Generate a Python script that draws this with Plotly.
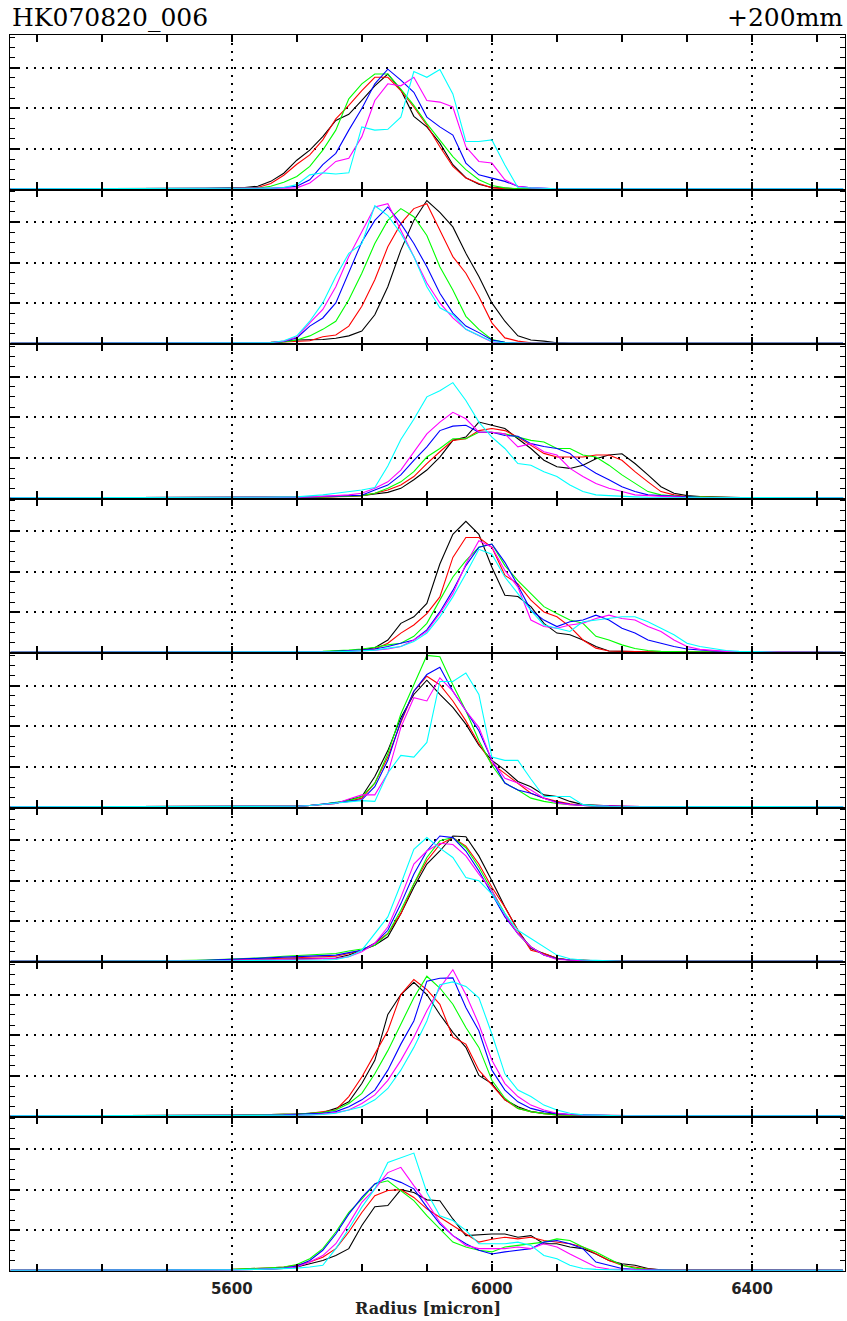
import plotly.graph_objects as go
from plotly.subplots import make_subplots

# ---------------- data ----------------
SERIES = ["black", "red", "green", "blue", "magenta", "cyan"]
COLORS = ["#000000", "#ff0000", "#00ff00", "#0000ff", "#ff00ff", "#00ffff"]
X_TICK_VALUES = [5600, 6000, 6400]
X_TICK_LABELS = ["5600", "6000", "6400"]
TITLE_LEFT = "HK070820_006"
TITLE_RIGHT = "+200mm"
X_TITLE = "Radius [micron]"

# Panel 1
P1_X = [5260, 5400, 5500, 5560, 5600, 5620, 5640, 5660, 5680, 5700, 5720, 5740, 5760, 5780, 5800, 5820,
        5840, 5860, 5880, 5900, 5920, 5940, 5960, 5980, 6000, 6020, 6040, 6060, 6080, 6100, 6140, 6200,
        6300, 6400, 6540]
P1_BLACK = [0.02, 0.02, 0.03, 0.03, 0.04, 0.05, 0.08, 0.20, 0.40, 0.72, 0.97, 1.30, 1.70, 1.85, 2.19, 2.55,
            2.84, 2.45, 1.80, 1.54, 1.14, 0.61, 0.29, 0.13, 0.05, 0.03, 0.02, 0.02, 0.02, 0.02, 0.02, 0.02,
            0.02, 0.02, 0.02]
P1_RED = [0.02, 0.02, 0.02, 0.03, 0.03, 0.04, 0.05, 0.15, 0.35, 0.62, 0.85, 1.22, 1.74, 2.07, 2.43, 2.76,
          2.76, 2.43, 2.03, 1.58, 1.05, 0.57, 0.28, 0.15, 0.04, 0.02, 0.02, 0.02, 0.02, 0.02, 0.02, 0.02,
          0.02, 0.02, 0.02]
P1_GREEN = [0.02, 0.02, 0.02, 0.02, 0.03, 0.03, 0.03, 0.08, 0.18, 0.32, 0.57, 0.97, 1.46, 2.23, 2.60, 2.84,
            2.84, 2.47, 2.07, 1.62, 1.22, 0.81, 0.49, 0.24, 0.10, 0.04, 0.02, 0.02, 0.02, 0.02, 0.02, 0.02,
            0.02, 0.02, 0.02]
P1_BLUE = [0.02, 0.02, 0.02, 0.02, 0.02, 0.02, 0.02, 0.03, 0.05, 0.08, 0.24, 0.61, 0.89, 1.46, 1.99, 2.60,
           2.96, 2.69, 2.39, 1.78, 1.54, 1.34, 0.65, 0.36, 0.28, 0.20, 0.08, 0.04, 0.03, 0.02, 0.02, 0.02,
           0.02, 0.02, 0.02]
P1_MAGENTA = [0.02, 0.02, 0.02, 0.02, 0.02, 0.02, 0.02, 0.02, 0.03, 0.04, 0.16, 0.41, 0.69, 0.77, 1.30, 2.19,
              2.60, 2.55, 2.76, 2.19, 2.15, 2.03, 1.05, 0.69, 0.65, 0.24, 0.08, 0.04, 0.03, 0.02, 0.02, 0.02,
              0.02, 0.02, 0.02]
P1_CYAN = [0.02, 0.02, 0.02, 0.02, 0.02, 0.02, 0.02, 0.03, 0.05, 0.12, 0.36, 0.41, 0.38, 0.41, 1.54, 1.46,
           1.48, 1.78, 2.90, 2.76, 2.95, 2.35, 1.18, 1.18, 1.22, 0.60, 0.05, 0.04, 0.03, 0.02, 0.02, 0.02,
           0.02, 0.02, 0.02]

# Panel 2
P2_X = [5260, 5400, 5500, 5560, 5600, 5630, 5660, 5680, 5700, 5720, 5740, 5760, 5780, 5800, 5820, 5840,
        5860, 5880, 5900, 5920, 5940, 5960, 5980, 6000, 6020, 6040, 6060, 6080, 6100, 6120, 6160, 6200,
        6300, 6400, 6540]
P2_BLACK = [0.02, 0.02, 0.02, 0.02, 0.02, 0.03, 0.04, 0.06, 0.10, 0.11, 0.11, 0.14, 0.20, 0.32, 0.72, 1.41,
            2.31, 3.04, 3.53, 3.24, 2.88, 2.23, 1.66, 1.01, 0.56, 0.20, 0.10, 0.07, 0.03, 0.02, 0.02, 0.02,
            0.02, 0.02, 0.02]
P2_RED = [0.02, 0.02, 0.02, 0.02, 0.02, 0.03, 0.03, 0.05, 0.07, 0.08, 0.18, 0.22, 0.44, 0.93, 1.58, 2.39,
          2.96, 3.33, 3.45, 2.80, 2.15, 1.74, 1.17, 0.52, 0.15, 0.07, 0.03, 0.02, 0.02, 0.02, 0.02, 0.02,
          0.02, 0.02, 0.02]
P2_GREEN = [0.02, 0.02, 0.02, 0.02, 0.02, 0.03, 0.03, 0.05, 0.10, 0.20, 0.36, 0.56, 1.09, 1.74, 2.47, 3.04,
            3.33, 3.13, 2.67, 1.90, 1.33, 0.68, 0.36, 0.11, 0.04, 0.02, 0.02, 0.02, 0.02, 0.02, 0.02, 0.02,
            0.02, 0.02, 0.02]
P2_BLUE = [0.02, 0.02, 0.02, 0.02, 0.02, 0.03, 0.03, 0.06, 0.15, 0.44, 0.64, 1.01, 1.74, 2.51, 3.04, 3.37,
           2.96, 2.47, 1.90, 1.25, 0.76, 0.44, 0.28, 0.10, 0.04, 0.02, 0.02, 0.02, 0.02, 0.02, 0.02, 0.02,
           0.02, 0.02, 0.02]
P2_MAGENTA = [0.02, 0.02, 0.02, 0.02, 0.02, 0.03, 0.03, 0.07, 0.17, 0.52, 0.85, 1.41, 2.15, 2.76, 3.37, 3.45,
              2.80, 2.15, 1.50, 1.01, 0.64, 0.36, 0.20, 0.05, 0.03, 0.02, 0.02, 0.02, 0.02, 0.02, 0.02, 0.02,
              0.02, 0.02, 0.02]
P2_CYAN = [0.02, 0.02, 0.02, 0.02, 0.02, 0.03, 0.03, 0.08, 0.20, 0.56, 1.01, 1.66, 2.23, 2.47, 3.40, 3.16,
           2.72, 2.15, 1.41, 0.89, 0.72, 0.36, 0.20, 0.06, 0.03, 0.02, 0.02, 0.02, 0.02, 0.02, 0.02, 0.02,
           0.02, 0.02, 0.02]

# Panel 3
P3_X = [5260, 5400, 5500, 5560, 5600, 5650, 5700, 5720, 5740, 5760, 5780, 5800, 5820, 5840, 5860, 5880,
        5900, 5920, 5940, 5960, 5980, 6000, 6020, 6040, 6060, 6080, 6100, 6120, 6140, 6160, 6180, 6200,
        6220, 6240, 6260, 6280, 6300, 6320, 6340, 6400, 6540]
P3_BLACK = [0.02, 0.02, 0.02, 0.02, 0.03, 0.03, 0.03, 0.03, 0.04, 0.05, 0.05, 0.07, 0.11, 0.15, 0.25, 0.46,
            0.70, 1.02, 1.43, 1.51, 1.88, 1.80, 1.72, 1.47, 1.23, 0.94, 0.78, 0.74, 0.82, 0.98, 1.07, 1.10,
            0.86, 0.58, 0.29, 0.13, 0.07, 0.05, 0.04, 0.02, 0.02]
P3_RED = [0.02, 0.02, 0.02, 0.02, 0.03, 0.03, 0.03, 0.03, 0.04, 0.04, 0.05, 0.07, 0.13, 0.21, 0.33, 0.54,
          0.86, 1.15, 1.43, 1.47, 1.67, 1.72, 1.67, 1.51, 1.31, 1.11, 1.02, 1.02, 1.02, 1.07, 1.07, 0.94,
          0.66, 0.41, 0.17, 0.09, 0.05, 0.04, 0.03, 0.02, 0.02]
P3_GREEN = [0.02, 0.02, 0.02, 0.02, 0.03, 0.03, 0.03, 0.03, 0.04, 0.05, 0.05, 0.07, 0.13, 0.25, 0.41, 0.66,
            1.02, 1.23, 1.47, 1.47, 1.63, 1.63, 1.59, 1.51, 1.43, 1.39, 1.23, 1.23, 1.07, 1.02, 0.82, 0.58,
            0.37, 0.17, 0.09, 0.06, 0.05, 0.04, 0.03, 0.02, 0.02]
P3_BLUE = [0.02, 0.02, 0.02, 0.02, 0.03, 0.03, 0.03, 0.04, 0.05, 0.06, 0.07, 0.08, 0.21, 0.33, 0.58, 0.94,
           1.27, 1.67, 1.78, 1.80, 1.63, 1.63, 1.55, 1.53, 1.35, 1.28, 1.23, 1.11, 0.82, 0.62, 0.46, 0.29,
           0.17, 0.09, 0.07, 0.05, 0.04, 0.03, 0.03, 0.02, 0.02]
P3_MAGENTA = [0.02, 0.02, 0.02, 0.02, 0.03, 0.03, 0.03, 0.04, 0.05, 0.07, 0.09, 0.13, 0.25, 0.41, 0.70, 1.15,
              1.59, 1.88, 2.12, 1.96, 1.63, 1.63, 1.59, 1.27, 1.35, 1.15, 1.07, 0.74, 0.54, 0.37, 0.25, 0.17,
              0.09, 0.07, 0.05, 0.04, 0.03, 0.03, 0.03, 0.02, 0.02]
P3_CYAN = [0.02, 0.02, 0.02, 0.02, 0.03, 0.03, 0.04, 0.06, 0.09, 0.13, 0.17, 0.21, 0.27, 0.80, 1.45, 1.95,
           2.50, 2.65, 2.85, 2.41, 1.88, 1.51, 1.23, 0.86, 0.82, 0.66, 0.54, 0.33, 0.17, 0.09, 0.07, 0.05,
           0.04, 0.03, 0.03, 0.03, 0.03, 0.03, 0.03, 0.02, 0.02]

# Panel 4
P4_X = [5260, 5400, 5500, 5560, 5600, 5650, 5700, 5740, 5760, 5780, 5800, 5820, 5840, 5860, 5880, 5900,
        5920, 5940, 5960, 5980, 6000, 6020, 6040, 6060, 6080, 6100, 6120, 6140, 6160, 6180, 6200, 6220,
        6240, 6260, 6280, 6300, 6320, 6340, 6360, 6380, 6440, 6540]
P4_BLACK = [0.02, 0.02, 0.02, 0.02, 0.02, 0.03, 0.03, 0.03, 0.04, 0.05, 0.08, 0.13, 0.32, 0.73, 0.89, 1.22,
            2.19, 2.92, 3.24, 2.92, 2.11, 1.42, 1.39, 1.14, 0.73, 0.49, 0.45, 0.32, 0.16, 0.05, 0.04, 0.03,
            0.03, 0.03, 0.03, 0.03, 0.03, 0.03, 0.03, 0.03, 0.02, 0.02]
P4_RED = [0.02, 0.02, 0.02, 0.02, 0.02, 0.03, 0.03, 0.03, 0.04, 0.05, 0.07, 0.10, 0.24, 0.49, 0.69, 0.97,
          1.38, 2.35, 2.84, 2.84, 2.60, 1.91, 1.70, 1.30, 1.01, 0.89, 0.65, 0.32, 0.12, 0.05, 0.04, 0.03,
          0.03, 0.03, 0.03, 0.03, 0.03, 0.03, 0.03, 0.03, 0.02, 0.02]
P4_GREEN = [0.02, 0.02, 0.02, 0.02, 0.02, 0.03, 0.03, 0.04, 0.05, 0.07, 0.10, 0.14, 0.20, 0.24, 0.41, 0.73,
            1.30, 1.87, 2.27, 2.60, 2.68, 2.15, 1.78, 1.46, 1.14, 0.97, 0.81, 0.73, 0.41, 0.32, 0.20, 0.11,
            0.06, 0.04, 0.03, 0.03, 0.03, 0.03, 0.03, 0.03, 0.02, 0.02]
P4_BLUE = [0.02, 0.02, 0.02, 0.02, 0.02, 0.03, 0.03, 0.03, 0.04, 0.05, 0.07, 0.10, 0.16, 0.24, 0.32, 0.57,
           1.01, 1.54, 2.15, 2.60, 2.68, 2.23, 1.66, 1.05, 0.81, 0.65, 0.77, 0.81, 0.93, 0.81, 0.61, 0.49,
           0.32, 0.24, 0.16, 0.10, 0.07, 0.05, 0.04, 0.03, 0.02, 0.02]
P4_MAGENTA = [0.02, 0.02, 0.02, 0.02, 0.02, 0.03, 0.03, 0.03, 0.03, 0.04, 0.05, 0.07, 0.10, 0.16, 0.32, 0.53,
              0.97, 1.46, 2.19, 2.76, 2.60, 2.03, 1.62, 0.81, 0.65, 0.61, 0.69, 0.73, 0.85, 0.93, 0.85, 0.81,
              0.65, 0.53, 0.32, 0.16, 0.09, 0.06, 0.04, 0.03, 0.02, 0.02]
P4_CYAN = [0.02, 0.02, 0.02, 0.02, 0.02, 0.03, 0.03, 0.03, 0.03, 0.04, 0.05, 0.07, 0.12, 0.16, 0.28, 0.49,
           0.89, 1.38, 1.95, 2.55, 2.43, 1.87, 1.46, 1.05, 0.69, 0.61, 0.53, 0.77, 0.81, 0.85, 0.89, 0.89,
           0.77, 0.61, 0.45, 0.24, 0.16, 0.11, 0.06, 0.04, 0.02, 0.02]

# Panel 5
P5_X = [5260, 5400, 5500, 5560, 5600, 5650, 5700, 5720, 5740, 5760, 5780, 5800, 5820, 5840, 5860, 5880,
        5900, 5920, 5940, 5960, 5980, 6000, 6020, 6040, 6060, 6080, 6100, 6120, 6140, 6160, 6180, 6200,
        6260, 6300, 6400, 6540]
P5_BLACK = [0.02, 0.02, 0.02, 0.02, 0.02, 0.03, 0.03, 0.05, 0.07, 0.10, 0.19, 0.27, 0.76, 1.40, 2.21, 2.78,
            3.13, 2.78, 2.46, 2.05, 1.53, 1.16, 0.92, 0.64, 0.51, 0.31, 0.27, 0.15, 0.07, 0.05, 0.04, 0.03,
            0.02, 0.02, 0.02, 0.02]
P5_RED = [0.02, 0.02, 0.02, 0.02, 0.02, 0.03, 0.03, 0.05, 0.08, 0.12, 0.15, 0.23, 0.60, 1.24, 2.09, 2.86,
          3.23, 3.02, 2.62, 2.13, 1.57, 1.08, 0.84, 0.60, 0.35, 0.23, 0.15, 0.09, 0.05, 0.04, 0.03, 0.03,
          0.02, 0.02, 0.02, 0.02]
P5_GREEN = [0.02, 0.02, 0.02, 0.02, 0.02, 0.03, 0.03, 0.05, 0.08, 0.13, 0.17, 0.27, 0.60, 1.32, 2.30, 3.02,
            3.74, 3.71, 3.02, 2.38, 1.65, 1.04, 0.60, 0.43, 0.23, 0.15, 0.10, 0.07, 0.05, 0.04, 0.03, 0.03,
            0.02, 0.02, 0.02, 0.02]
P5_BLUE = [0.02, 0.02, 0.02, 0.02, 0.02, 0.03, 0.03, 0.05, 0.08, 0.11, 0.15, 0.19, 0.51, 1.16, 2.13, 2.86,
           3.27, 3.45, 2.86, 2.38, 1.89, 1.16, 0.60, 0.43, 0.35, 0.23, 0.13, 0.08, 0.05, 0.04, 0.03, 0.03,
           0.02, 0.02, 0.02, 0.02]
P5_MAGENTA = [0.02, 0.02, 0.02, 0.02, 0.02, 0.03, 0.03, 0.05, 0.07, 0.10, 0.21, 0.31, 0.31, 0.84, 1.97, 2.70,
              2.62, 3.19, 2.86, 2.38, 1.97, 1.16, 0.72, 0.60, 0.43, 0.23, 0.11, 0.07, 0.05, 0.04, 0.03, 0.03,
              0.02, 0.02, 0.02, 0.02]
P5_CYAN = [0.02, 0.02, 0.02, 0.02, 0.02, 0.03, 0.03, 0.05, 0.08, 0.11, 0.15, 0.17, 0.15, 0.85, 1.28, 1.24,
           1.60, 3.10, 3.10, 3.31, 2.78, 1.24, 1.16, 1.16, 0.70, 0.27, 0.27, 0.27, 0.07, 0.04, 0.03, 0.03,
           0.02, 0.02, 0.02, 0.02]

# Panel 6
P6_X = [5260, 5400, 5450, 5500, 5560, 5600, 5640, 5680, 5700, 5720, 5740, 5760, 5780, 5800, 5820, 5840,
        5860, 5880, 5900, 5920, 5940, 5960, 5980, 6000, 6020, 6040, 6060, 6080, 6100, 6120, 6140, 6160,
        6180, 6200, 6260, 6300, 6400, 6540]
P6_BLACK = [0.02, 0.02, 0.02, 0.02, 0.03, 0.04, 0.05, 0.06, 0.07, 0.08, 0.09, 0.10, 0.17, 0.29, 0.41, 0.62,
            1.19, 1.84, 2.41, 2.73, 3.10, 3.08, 2.61, 2.00, 1.35, 0.78, 0.33, 0.21, 0.09, 0.05, 0.04, 0.03,
            0.03, 0.02, 0.02, 0.02, 0.02, 0.02]
P6_RED = [0.02, 0.02, 0.02, 0.02, 0.03, 0.05, 0.07, 0.09, 0.10, 0.11, 0.12, 0.14, 0.21, 0.29, 0.46, 0.70,
          1.19, 1.92, 2.49, 2.89, 3.06, 2.85, 2.41, 1.84, 1.35, 0.78, 0.29, 0.21, 0.09, 0.05, 0.04, 0.03,
          0.03, 0.02, 0.02, 0.02, 0.02, 0.02]
P6_GREEN = [0.02, 0.02, 0.02, 0.03, 0.05, 0.07, 0.10, 0.14, 0.16, 0.18, 0.20, 0.21, 0.27, 0.32, 0.41, 0.70,
            1.27, 1.92, 2.57, 2.98, 3.06, 2.81, 2.33, 1.76, 1.19, 0.70, 0.37, 0.17, 0.08, 0.05, 0.04, 0.03,
            0.03, 0.02, 0.02, 0.02, 0.02, 0.02]
P6_BLUE = [0.02, 0.02, 0.02, 0.02, 0.04, 0.06, 0.09, 0.12, 0.13, 0.15, 0.16, 0.17, 0.23, 0.29, 0.46, 0.78,
           1.43, 2.16, 2.73, 3.10, 3.06, 2.73, 2.24, 1.67, 1.11, 0.70, 0.37, 0.17, 0.08, 0.05, 0.04, 0.03,
           0.03, 0.02, 0.02, 0.02, 0.02, 0.02]
P6_MAGENTA = [0.02, 0.02, 0.02, 0.02, 0.03, 0.04, 0.05, 0.07, 0.07, 0.08, 0.08, 0.09, 0.13, 0.25, 0.46, 0.86,
              1.59, 2.41, 2.73, 2.92, 2.89, 2.61, 2.16, 1.76, 1.15, 0.70, 0.37, 0.17, 0.06, 0.04, 0.03, 0.03,
              0.02, 0.02, 0.02, 0.02, 0.02, 0.02]
P6_CYAN = [0.02, 0.02, 0.02, 0.02, 0.03, 0.03, 0.04, 0.04, 0.04, 0.05, 0.05, 0.06, 0.13, 0.29, 0.70, 1.11,
           1.92, 2.77, 3.06, 2.80, 2.57, 2.08, 2.00, 1.67, 1.19, 0.78, 0.58, 0.37, 0.17, 0.08, 0.05, 0.04,
           0.03, 0.02, 0.02, 0.02, 0.02, 0.02]

# Panel 7
P7_X = [5260, 5400, 5500, 5560, 5600, 5640, 5680, 5700, 5720, 5740, 5760, 5780, 5800, 5820, 5840, 5860,
        5880, 5900, 5920, 5940, 5960, 5980, 6000, 6020, 6040, 6060, 6080, 6100, 6120, 6140, 6160, 6200,
        6260, 6300, 6400, 6540]
P7_BLACK = [0.02, 0.02, 0.02, 0.02, 0.03, 0.04, 0.05, 0.06, 0.08, 0.10, 0.20, 0.36, 0.81, 1.38, 2.51, 3.00,
            3.30, 3.00, 2.51, 2.07, 1.70, 1.01, 0.81, 0.41, 0.24, 0.12, 0.08, 0.06, 0.04, 0.03, 0.03, 0.02,
            0.02, 0.02, 0.02, 0.02]
P7_RED = [0.02, 0.02, 0.02, 0.02, 0.03, 0.04, 0.05, 0.06, 0.08, 0.12, 0.16, 0.49, 0.97, 1.54, 2.11, 3.00,
          3.37, 3.12, 2.76, 1.95, 1.78, 1.14, 0.77, 0.41, 0.20, 0.12, 0.07, 0.04, 0.03, 0.03, 0.02, 0.02,
          0.02, 0.02, 0.02, 0.02]
P7_GREEN = [0.02, 0.02, 0.02, 0.02, 0.03, 0.04, 0.05, 0.06, 0.08, 0.10, 0.16, 0.32, 0.57, 1.05, 1.62, 2.27,
            2.92, 3.45, 3.16, 2.76, 2.19, 1.70, 0.89, 0.45, 0.20, 0.12, 0.07, 0.04, 0.03, 0.03, 0.02, 0.02,
            0.02, 0.02, 0.02, 0.02]
P7_BLUE = [0.02, 0.02, 0.02, 0.02, 0.02, 0.03, 0.04, 0.05, 0.06, 0.08, 0.12, 0.24, 0.41, 0.65, 1.14, 1.78,
           2.35, 3.33, 3.40, 3.41, 2.68, 2.11, 1.14, 0.65, 0.36, 0.20, 0.12, 0.07, 0.05, 0.04, 0.03, 0.02,
           0.02, 0.02, 0.02, 0.02]
P7_MAGENTA = [0.02, 0.02, 0.02, 0.02, 0.02, 0.02, 0.03, 0.03, 0.04, 0.06, 0.10, 0.16, 0.32, 0.53, 0.89, 1.38,
              1.95, 2.60, 3.16, 3.61, 3.00, 2.27, 1.38, 0.81, 0.49, 0.28, 0.16, 0.08, 0.05, 0.03, 0.03, 0.02,
              0.02, 0.02, 0.02, 0.02]
P7_CYAN = [0.02, 0.02, 0.02, 0.02, 0.02, 0.02, 0.03, 0.03, 0.04, 0.05, 0.08, 0.16, 0.24, 0.41, 0.69, 1.14,
           1.70, 2.35, 3.24, 3.31, 3.20, 2.92, 2.03, 1.05, 0.65, 0.49, 0.28, 0.16, 0.08, 0.04, 0.03, 0.02,
           0.02, 0.02, 0.02, 0.02]

# Panel 8
P8_X = [5260, 5400, 5450, 5500, 5560, 5600, 5640, 5660, 5680, 5700, 5720, 5740, 5760, 5780, 5800, 5820,
        5840, 5860, 5880, 5900, 5920, 5940, 5960, 5980, 6000, 6020, 6040, 6060, 6080, 6100, 6120, 6140,
        6160, 6180, 6200, 6220, 6240, 6260, 6280, 6320, 6400, 6540]
P8_BLACK = [0.02, 0.02, 0.02, 0.02, 0.03, 0.03, 0.04, 0.05, 0.06, 0.10, 0.18, 0.26, 0.38, 0.55, 1.12, 1.58,
            1.61, 2.00, 1.93, 1.75, 1.73, 1.28, 0.87, 0.89, 0.91, 0.91, 0.83, 0.87, 0.67, 0.67, 0.59, 0.55,
            0.42, 0.26, 0.18, 0.14, 0.06, 0.03, 0.03, 0.02, 0.02, 0.02]
P8_RED = [0.02, 0.02, 0.02, 0.02, 0.03, 0.04, 0.06, 0.08, 0.10, 0.14, 0.22, 0.34, 0.55, 0.96, 1.44, 1.85,
          1.98, 2.00, 1.81, 1.53, 1.32, 1.12, 0.91, 0.71, 0.78, 0.83, 0.79, 0.83, 0.75, 0.71, 0.67, 0.59,
          0.42, 0.26, 0.14, 0.10, 0.05, 0.03, 0.03, 0.02, 0.02, 0.02]
P8_GREEN = [0.02, 0.02, 0.02, 0.02, 0.03, 0.04, 0.06, 0.08, 0.10, 0.16, 0.30, 0.55, 0.96, 1.44, 1.77, 2.14,
            2.22, 1.98, 1.73, 1.36, 1.04, 0.71, 0.59, 0.51, 0.47, 0.59, 0.63, 0.67, 0.71, 0.79, 0.75, 0.59,
            0.47, 0.30, 0.14, 0.07, 0.04, 0.03, 0.02, 0.02, 0.02, 0.02]
P8_BLUE = [0.02, 0.02, 0.02, 0.02, 0.03, 0.03, 0.04, 0.05, 0.07, 0.12, 0.26, 0.51, 0.91, 1.40, 1.81, 2.14,
           2.30, 2.18, 2.02, 1.57, 1.16, 0.87, 0.67, 0.51, 0.42, 0.47, 0.51, 0.55, 0.71, 0.75, 0.67, 0.55,
           0.22, 0.14, 0.06, 0.04, 0.03, 0.02, 0.02, 0.02, 0.02, 0.02]
P8_MAGENTA = [0.02, 0.02, 0.02, 0.02, 0.03, 0.03, 0.04, 0.05, 0.06, 0.10, 0.22, 0.38, 0.67, 1.16, 1.69, 2.02,
              2.42, 2.55, 2.10, 1.69, 1.20, 0.87, 0.63, 0.55, 0.55, 0.55, 0.59, 0.55, 0.67, 0.59, 0.42, 0.26,
              0.10, 0.05, 0.04, 0.03, 0.02, 0.02, 0.02, 0.02, 0.02, 0.02]
P8_CYAN = [0.02, 0.02, 0.02, 0.02, 0.03, 0.03, 0.04, 0.05, 0.06, 0.07, 0.10, 0.14, 0.55, 1.04, 1.57, 2.02,
           2.67, 2.79, 2.90, 1.93, 1.36, 1.24, 1.00, 0.67, 0.67, 0.67, 0.71, 0.63, 0.38, 0.30, 0.14, 0.06,
           0.04, 0.03, 0.03, 0.02, 0.02, 0.02, 0.02, 0.02, 0.02, 0.02]

PANELS = [
    (P1_X, [P1_BLACK, P1_RED, P1_GREEN, P1_BLUE, P1_MAGENTA, P1_CYAN]),
    (P2_X, [P2_BLACK, P2_RED, P2_GREEN, P2_BLUE, P2_MAGENTA, P2_CYAN]),
    (P3_X, [P3_BLACK, P3_RED, P3_GREEN, P3_BLUE, P3_MAGENTA, P3_CYAN]),
    (P4_X, [P4_BLACK, P4_RED, P4_GREEN, P4_BLUE, P4_MAGENTA, P4_CYAN]),
    (P5_X, [P5_BLACK, P5_RED, P5_GREEN, P5_BLUE, P5_MAGENTA, P5_CYAN]),
    (P6_X, [P6_BLACK, P6_RED, P6_GREEN, P6_BLUE, P6_MAGENTA, P6_CYAN]),
    (P7_X, [P7_BLACK, P7_RED, P7_GREEN, P7_BLUE, P7_MAGENTA, P7_CYAN]),
    (P8_X, [P8_BLACK, P8_RED, P8_GREEN, P8_BLUE, P8_MAGENTA, P8_CYAN]),
]

X_RANGE = [5259, 6543]
Y_RANGE = [0, 3.8]

# ---------------- figure ----------------
W, H = 847, 1321
ML, MR, MT, MB = 10, 2, 35, 50
NROWS = len(PANELS)

fig = make_subplots(rows=NROWS, cols=1, shared_xaxes=True, vertical_spacing=0)

for r, (xs, ys) in enumerate(PANELS, start=1):
    for name, color, yv in zip(SERIES, COLORS, ys):
        fig.add_trace(
            go.Scatter(x=xs, y=yv, mode="lines", name=name, showlegend=False,
                       line=dict(color=color, width=1.1), hoverinfo="skip"),
            row=r, col=1)

for r in range(1, NROWS + 1):
    fig.update_xaxes(
        range=X_RANGE, tickmode="array", tickvals=X_TICK_VALUES, ticktext=X_TICK_LABELS,
        ticks="inside", ticklen=7, tickwidth=1.5, tickcolor="black",
        showline=True, linecolor="black", linewidth=1.2, mirror="allticks",
        showgrid=True, gridcolor="black", gridwidth=1.5, griddash="2px,6px",
        zeroline=False,
        minor=dict(dtick=100, tick0=5600, ticks="inside", ticklen=7, tickwidth=1.5,
                   tickcolor="black", showgrid=False),
        showticklabels=(r == NROWS),
        tickfont=dict(family="DejaVu Sans", size=15, color="#222222", weight="bold"),
        ticklabelstandoff=4,
        row=r, col=1)
    fig.update_yaxes(
        range=Y_RANGE, tick0=0, dtick=1, ticks="inside", ticklen=9, tickwidth=1.5,
        tickcolor="black", showline=True, linecolor="black", linewidth=1.2, mirror="allticks",
        showgrid=True, gridcolor="black", gridwidth=1.5, griddash="2px,6px",
        zeroline=False, showticklabels=False,
        minor=dict(dtick=0.25, tick0=0, ticks="inside", ticklen=5, tickwidth=1.2,
                   tickcolor="black", showgrid=False),
        row=r, col=1)

plot_h = H - MT - MB
fig.add_annotation(text=TITLE_LEFT, xref="paper", yref="paper", x=0, y=1 + 17 / plot_h,
                   xanchor="left", yanchor="middle", showarrow=False,
                   font=dict(family="DejaVu Serif", size=25, color="black"))
fig.add_annotation(text=TITLE_RIGHT, xref="paper", yref="paper", x=1, y=1 + 17 / plot_h,
                   xanchor="right", yanchor="middle", showarrow=False,
                   font=dict(family="DejaVu Serif", size=25, color="black"))
fig.add_annotation(text=X_TITLE, xref="paper", yref="paper", x=0.5, y=-37 / plot_h,
                   xanchor="center", yanchor="middle", showarrow=False,
                   font=dict(family="DejaVu Serif", size=16, color="#222222", weight="bold"))

fig.update_layout(
    width=W, height=H, autosize=False,
    margin=dict(l=ML, r=MR, t=MT, b=MB, pad=0),
    paper_bgcolor="white", plot_bgcolor="white",
    showlegend=False,
)

fig.write_html("out.html", include_plotlyjs=True, config={"displayModeBar": False},
               post_script="document.body.style.margin='0px';document.body.style.overflow='hidden';")
